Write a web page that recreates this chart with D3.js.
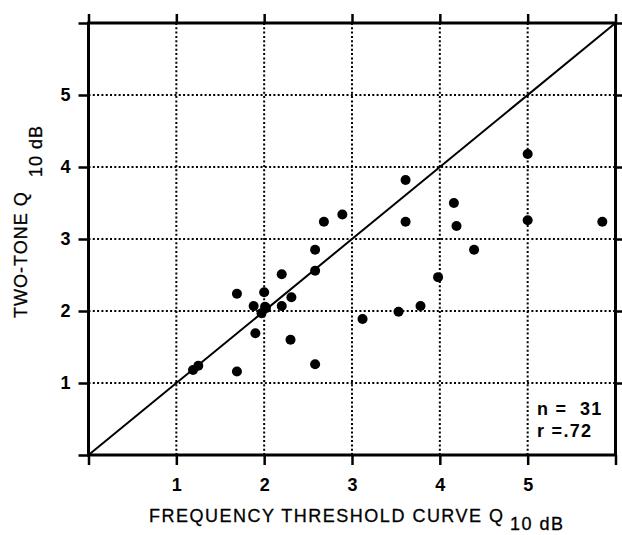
<!DOCTYPE html>
<html>
<head>
<meta charset="utf-8">
<script src="https://cdn.jsdelivr.net/npm/d3@7"></script>
<style>
  html, body { margin: 0; padding: 0; background: #fff; }
  svg { display: block; }
  text { font-family: "Liberation Sans", Arial, sans-serif; fill: #000; }
</style>
</head>
<body>
<svg id="chart" width="622" height="535"></svg>
<script>
// Q10dB measured from frequency-threshold curves (x) and two-tone suppression (y)
const thresholdQ = [
  2.89, 2.68, 2.58, 2.58, 2.20, 1.69, 2.00, 2.31, 1.88, 2.01,
  2.20, 1.97, 2.02, 1.90, 2.30, 1.19, 1.25, 1.69, 2.58, 5.00,
  3.61, 4.16, 3.61, 4.19, 5.00, 5.85, 4.39, 3.98, 3.78, 3.53,
  3.12
];
const twoToneQ = [
  3.34, 3.24, 2.85, 2.56, 2.51, 2.24, 2.26, 2.19, 2.07, 2.06,
  2.07, 1.97, 2.04, 1.69, 1.60, 1.18, 1.24, 1.16, 1.26, 4.18,
  3.82, 3.50, 3.24, 3.18, 3.26, 3.24, 2.85, 2.47, 2.07, 1.99,
  1.89
];
const tickValues = [0, 1, 2, 3, 4, 5, 6];
const labelledTicks = [1, 2, 3, 4, 5];
const statLines = ["n =  31", "r =.72"];

const svg = d3.select("#chart");
const x = d3.scaleLinear().domain([0, 6]).range([88.5, 615.5]);
const y = d3.scaleLinear().domain([0, 6]).range([455, 23]);

// dotted grid
const grid = svg.append("g")
  .attr("stroke", "#000")
  .attr("stroke-width", 2)
  .attr("stroke-dasharray", "2,2.3");
grid.selectAll("line.vx").data(labelledTicks).join("line")
  .attr("x1", d => x(d)).attr("x2", d => x(d))
  .attr("y1", y(0)).attr("y2", y(6));
grid.selectAll("line.hy").data(labelledTicks).join("line")
  .attr("class", "hy")
  .attr("x1", x(0)).attr("x2", x(6))
  .attr("y1", d => y(d)).attr("y2", d => y(d));

// frame with outward ticks on all four sides
const fmt = d => labelledTicks.includes(d) ? d : "";
function styleAxis(g) {
  g.selectAll(".domain").remove();
  g.selectAll(".tick line").attr("stroke", "#000").attr("stroke-width", 2.5);
  g.selectAll(".tick text")
    .style("font-family", "'Liberation Sans', Arial, sans-serif")
    .style("font-weight", "bold")
    .style("font-size", "18px")
    .attr("fill", "#000");
}
svg.append("g").attr("transform", `translate(0,${y(0)})`)
  .call(d3.axisBottom(x).tickValues(tickValues).tickFormat(fmt).tickSize(10).tickPadding(13))
  .call(styleAxis);
svg.append("g").attr("transform", `translate(0,${y(6)})`)
  .call(d3.axisTop(x).tickValues(tickValues).tickFormat("").tickSize(9))
  .call(styleAxis);
svg.append("g").attr("transform", `translate(${x(0)},0)`)
  .call(d3.axisLeft(y).tickValues(tickValues).tickFormat(fmt).tickSize(10).tickPadding(8))
  .call(styleAxis);
svg.append("g").attr("transform", `translate(${x(6)},0)`)
  .call(d3.axisRight(y).tickValues(tickValues.slice(1)).tickFormat("").tickSize(7))
  .call(styleAxis);

svg.append("rect")
  .attr("x", x(0)).attr("y", y(6))
  .attr("width", x(6) - x(0)).attr("height", y(0) - y(6))
  .attr("fill", "none").attr("stroke", "#000").attr("stroke-width", 3);

// line of equality
svg.append("line")
  .attr("x1", x(0)).attr("y1", y(0))
  .attr("x2", x(6)).attr("y2", y(6))
  .attr("stroke", "#000").attr("stroke-width", 2);

// units
svg.append("g").selectAll("circle")
  .data(d3.range(thresholdQ.length)).join("circle")
  .attr("cx", i => x(thresholdQ[i]))
  .attr("cy", i => y(twoToneQ[i]))
  .attr("r", 5)
  .attr("fill", "#000");

// statistics
svg.append("g").selectAll("text").data(statLines).join("text")
  .attr("x", 537)
  .attr("y", (d, i) => 415 + i * 22)
  .attr("xml:space", "preserve")
  .style("font-size", "18px")
  .style("font-weight", "bold")
  .style("letter-spacing", "1.3px")
  .text(d => d);

// axis titles
const xt = svg.append("text")
  .attr("x", 149).attr("y", 522)
  .style("font-size", "18px")
  .style("stroke", "#000").style("stroke-width", 0.3)
  .style("letter-spacing", "1.5px");
xt.append("tspan").text("FREQUENCY THRESHOLD CURVE Q");
xt.append("tspan").attr("x", 510).attr("y", 530).text("10 dB");

const yt = svg.append("text")
  .attr("transform", "translate(27,318) rotate(-90)")
  .style("font-size", "18px")
  .style("stroke", "#000").style("stroke-width", 0.3)
  .style("letter-spacing", "1px");
yt.append("tspan").attr("x", 0).attr("y", 0).text("TWO-TONE Q");
yt.append("tspan").attr("x", 141).attr("y", 15).text("10 dB");
</script>
</body>
</html>
